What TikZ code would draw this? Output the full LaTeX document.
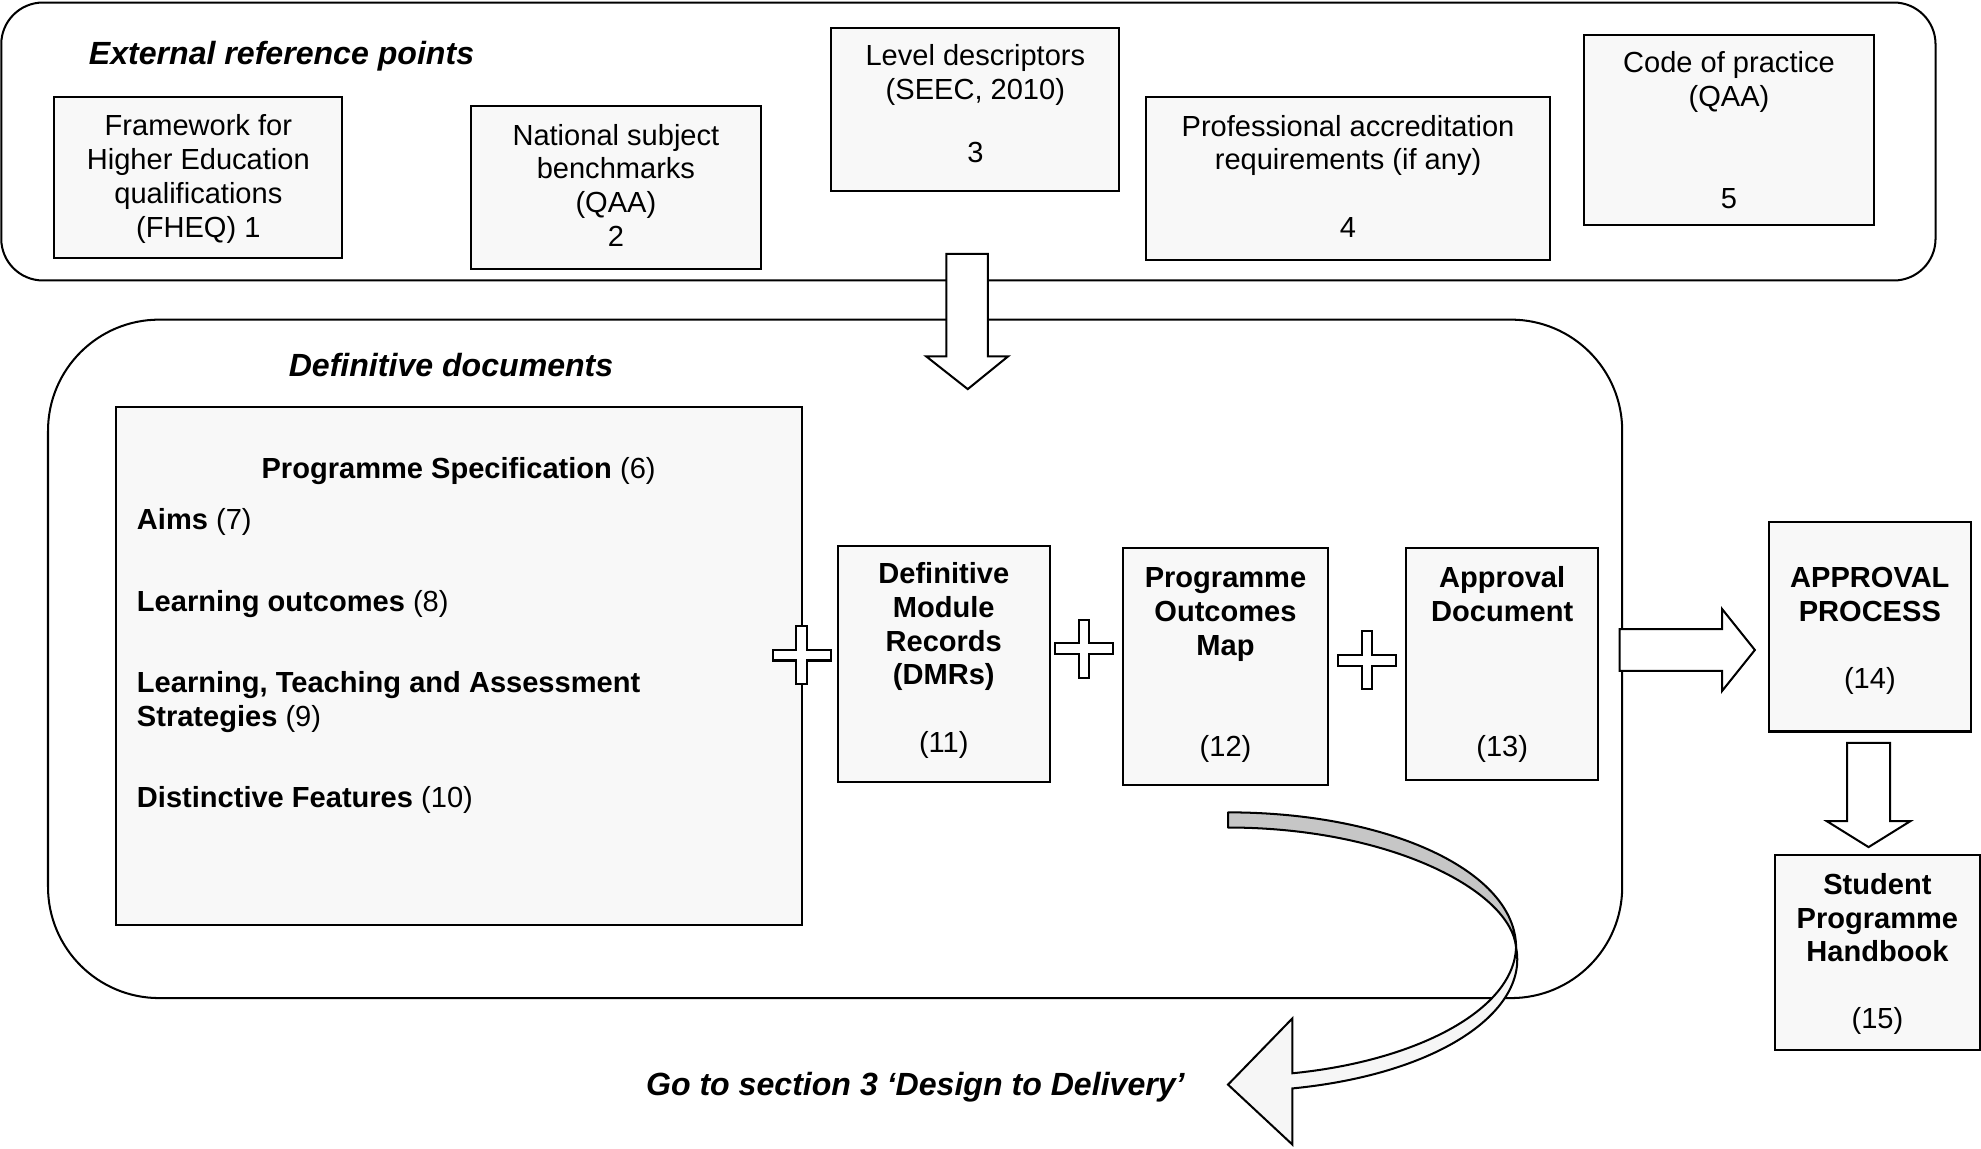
\documentclass[tikz,border=0pt]{standalone}
\usepackage{fontspec}
\setmainfont{Liberation Sans}
\definecolor{boxfill}{HTML}{F8F8F8}
\definecolor{bandgray}{HTML}{C6C6C6}
\definecolor{bandlight}{HTML}{F6F6F6}
\begin{document}
\begin{tikzpicture}[x=0.5pt,y=-0.5pt,
  box/.style={draw=black,line width=0.8pt,fill=boxfill,inner sep=0pt},
  region/.style={draw=black,line width=0.8pt,fill=white,inner sep=0pt},
  lbl/.style={inner sep=0pt,anchor=base,font=\fontsize{11.5}{13.5}\selectfont},
  lbll/.style={inner sep=0pt,anchor=base west,font=\fontsize{11.5}{13.5}\selectfont},
  blbl/.style={inner sep=0pt,anchor=base,font=\fontsize{11.5}{13.5}\selectfont\bfseries},
  ttl/.style={inner sep=0pt,font=\fontsize{12.7}{15}\selectfont\bfseries\itshape},
  blockarrow/.style={draw=black,line width=0.8pt,fill=white,line join=miter},
  plussign/.pic={\draw[blockarrow] (-4.3,-23) -- (4.3,-23) -- (4.3,-4.3) -- (23,-4.3) -- (23,4.3) -- (4.3,4.3) -- (4.3,23) -- (-4.3,23) -- (-4.3,4.3) -- (-23,4.3) -- (-23,-4.3) -- (-4.3,-4.3) -- cycle;}
]
\useasboundingbox (0,0) rectangle (1568,909);

% regions
\node[region,rounded corners=16.5pt,minimum width=765.5pt,minimum height=110pt] (ext) at (766.5,112) {};
\node[region,rounded corners=44pt,minimum width=623pt,minimum height=268.5pt] (def) at (661,521.5) {};

\node[ttl,anchor=base west] (extttl) at (70,51) {External reference points};
\node[ttl,anchor=base] (defttl) at (357,298) {Definitive documents};

% external reference boxes
\node[box,minimum width=114pt,minimum height=63.5pt] (b1) at (157,140.5) {};
\node[lbl] (b1a) at (157,107) {Framework for};
\node[lbl] (b1b) at (157,134) {Higher Education};
\node[lbl] (b1c) at (157,161) {qualifications};
\node[lbl] (b1d) at (157,188) {(FHEQ) 1};

\node[box,minimum width=114.5pt,minimum height=64.5pt] (b2) at (487.5,148.5) {};
\node[lbl] (b2a) at (487.5,115) {National subject};
\node[lbl] (b2b) at (487.5,141) {benchmarks};
\node[lbl] (b2c) at (487.5,168) {(QAA)};
\node[lbl] (b2d) at (487.5,195) {2};

\node[box,minimum width=114pt,minimum height=64.5pt] (b3) at (772,86.5) {};
\node[lbl] (b3a) at (772,52) {Level descriptors};
\node[lbl] (b3b) at (772,79) {(SEEC, 2010)};
\node[lbl] (b3c) at (772,129) {3};

\node[box,minimum width=160pt,minimum height=64.5pt] (b4) at (1067,141.5) {};
\node[lbl] (b4a) at (1067,108) {Professional accreditation};
\node[lbl] (b4b) at (1067,134) {requirements (if any)};
\node[lbl] (b4c) at (1067,188) {4};

\node[box,minimum width=114.5pt,minimum height=75pt] (b5) at (1368.5,103) {};
\node[lbl] (b5a) at (1368.5,57) {Code of practice};
\node[lbl] (b5b) at (1368.5,84) {(QAA)};
\node[lbl] (b5c) at (1368.5,165) {5};

% down arrow from external to definitive
\draw[blockarrow] (749,201) -- (782,201) -- (782,282) -- (798,282) -- (766,308) -- (733,282) -- (749,282) -- cycle;

% programme specification
\node[box,minimum width=271.5pt,minimum height=205pt] (ps) at (363.5,527) {};
\node[lbl] (psa) at (363,379) {\textbf{Programme Specification} (6)};
\node[lbll] (psb) at (108,419) {\textbf{Aims} (7)};
\node[lbll] (psc) at (108,484) {\textbf{Learning outcomes} (8)};
\node[lbll] (psd) at (108,548) {\textbf{Learning, Teaching and Assessment}};
\node[lbll] (pse) at (108,575) {\textbf{Strategies} (9)};
\node[lbll] (psf) at (108,639) {\textbf{Distinctive Features} (10)};

\node[box,minimum width=84pt,minimum height=93.5pt] (dmr) at (747,525.5) {};
\node[blbl] (dmra) at (747,462) {Definitive};
\node[blbl] (dmrb) at (747,489) {Module};
\node[blbl] (dmrc) at (747,516) {Records};
\node[blbl] (dmrd) at (747,542) {(DMRs)};
\node[lbl] (dmre) at (747,596) {(11)};

\node[box,minimum width=81pt,minimum height=93.5pt] (pom) at (970,527.5) {};
\node[blbl] (poma) at (970,465) {Programme};
\node[blbl] (pomb) at (970,492) {Outcomes};
\node[blbl] (pomc) at (970,519) {Map};
\node[lbl] (pomd) at (970,599) {(12)};

\node[box,minimum width=76pt,minimum height=91.5pt] (ad) at (1189,525.5) {};
\node[blbl] (ada) at (1189,465) {Approval};
\node[blbl] (adb) at (1189,492) {Document};
\node[lbl] (adc) at (1189,599) {(13)};

\pic at (634.5,518.5) {plussign};
\pic at (858,513.5) {plussign};
\pic at (1082,522.5) {plussign};

% approval process and handbook
\node[box,minimum width=80pt,minimum height=83pt] (ap) at (1480,496) {};
\node[blbl] (apa) at (1480,465) {APPROVAL};
\node[blbl] (apb) at (1480,492) {PROCESS};
\node[lbl] (apc) at (1480,545) {(14)};

\node[box,minimum width=81pt,minimum height=77pt] (sph) at (1486,754) {};
\node[blbl] (spha) at (1486,708) {Student};
\node[blbl] (sphb) at (1486,735) {Programme};
\node[blbl] (sphc) at (1486,761) {Handbook};
\node[lbl] (sphd) at (1486,814) {(15)};

\draw[blockarrow] (1282,498) -- (1363,498) -- (1363,482) -- (1389,514.5) -- (1363,547) -- (1363,531) -- (1282,531) -- cycle;
\draw[blockarrow] (1462,588) -- (1496,588) -- (1496,650) -- (1512,650) -- (1479,670.5) -- (1446,650) -- (1462,650) -- cycle;

% curved arrow
\draw[line width=0.8pt,fill=bandgray,line join=round] (972,643) .. controls (1100,643) and (1200,690) .. (1200,750)
  .. controls (1196,705) and (1100,655) .. (972,655) -- cycle;
\draw[line width=0.8pt,fill=bandlight,line join=miter] (1200,750) .. controls (1198,800) and (1120,840) .. (1023,849.5)
  -- (1023,806) -- (972,858.5) -- (1023,906) -- (1023,861.5)
  .. controls (1140,850) and (1210,800) .. (1200,750) -- cycle;

\node[ttl,anchor=base] (goto) at (724.5,867) {Go to section 3 ‘Design to Delivery’};
\end{tikzpicture}
\end{document}
